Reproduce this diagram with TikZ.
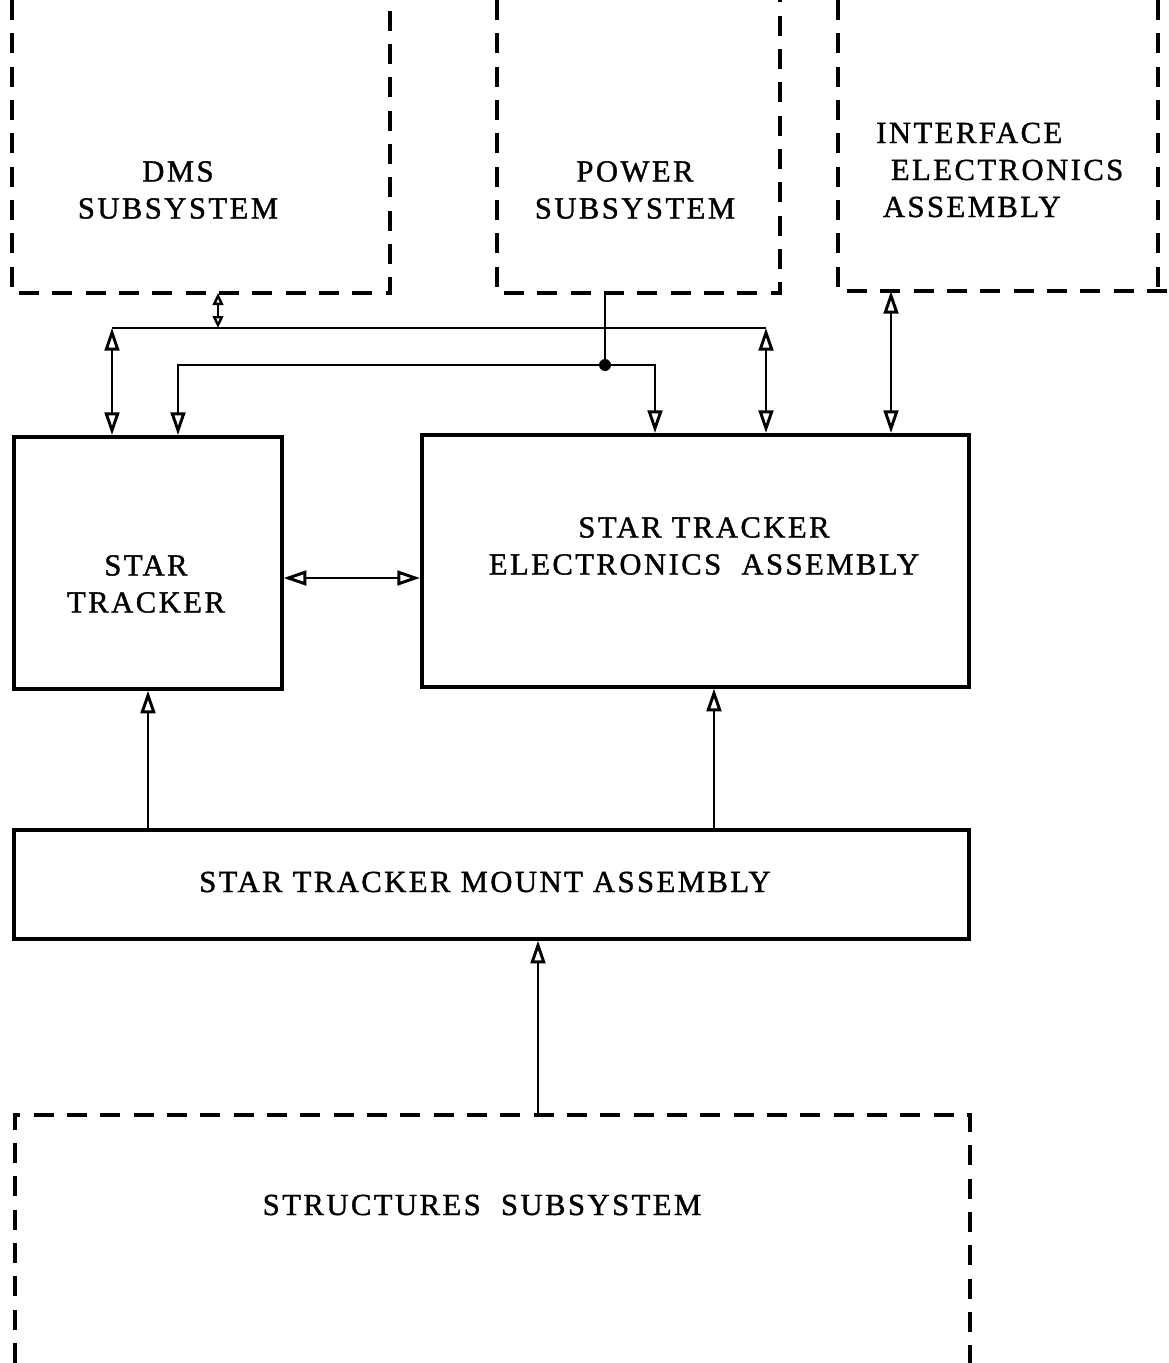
\documentclass[tikz,border=0pt]{standalone}
\usepackage{fontspec}
\setmainfont{Liberation Serif}[LetterSpace=8, FakeBold=1.2]
\usetikzlibrary{arrows.meta}
\begin{document}
\begin{tikzpicture}[x=0.75pt,y=-0.75pt,
  every node/.style={font=\fontsize{23}{27.75}\selectfont, align=center, inner sep=0pt},
  block/.style={draw, line width=2.7pt, anchor=north west},
  outline/.style={line width=2.3pt, dash pattern=on 15pt off 10pt},
  wire/.style={line width=2.2pt},
  tip/.tip={Triangle[open, length=17pt, width=11pt, line width=2.2pt]},
  smalltip/.tip={Triangle[open, length=9pt, width=8pt, line width=1.8pt]},
  arr/.style={wire, -tip},
  dbl/.style={wire, tip-tip},
  dbls/.style={wire, smalltip-smalltip}]
\useasboundingbox (0,0) rectangle (1168,1363);

% outer subsystems (dashed, open to the page edge)
\draw[outline] (12,0) -- (12,293) -- (390,293) -- (390,0);
\draw[outline] (497,0) -- (497,293) -- (780,293) -- (780,0);
\draw[outline] (838,0) -- (838,291) -- (1168,291);
\draw[outline] (1158,0) -- (1158,291);
\draw[outline] (15,1363) -- (15,1115) -- (970,1115) -- (970,1363);

\node (dms) at (178,190) {DMS\\SUBSYSTEM};
\node (pwr) at (635,190) {POWER\\SUBSYSTEM};
\node[align=left, anchor=west] (iea) at (876,170) {INTERFACE\\\hspace{11pt}ELECTRONICS\\\hspace{5pt}ASSEMBLY};
\node (strc) at (482,1205) {STRUCTURES\ \ SUBSYSTEM};

% star tracker units
\node[block, minimum width=201pt, minimum height=189pt] (st) at (12,435) {};
\node[block, minimum width=410.25pt, minimum height=189pt] (stea) at (420,433) {};
\node[block, minimum width=716.25pt, minimum height=81.75pt] (mnt) at (12,828) {};

\node (stt) at (146,584) {STAR\\TRACKER};
\node (steat) at (704,546) {STAR TRACKER\\ELECTRONICS\ \ ASSEMBLY};
\node (mntt) at (485,882) {STAR TRACKER MOUNT ASSEMBLY};

% connection points
\coordinate (dmsB) at (218,293);
\coordinate (busD) at (218,328);
\coordinate (busL) at (112,328);
\coordinate (busR) at (766,328);
\coordinate (pwrB) at (605,293);
\coordinate (pj) at (605,365);
\coordinate (pL) at (178,365);
\coordinate (pR) at (655,365);
\coordinate (ieaB) at (891,291);
\coordinate (strT) at (538,1115);

% data bus
\draw[dbls] (dmsB) -- (busD);
\draw[wire] (busL) -- (busR);
\draw[dbl] (busL) -- (busL |- st.north);
\draw[dbl] (busR) -- (busR |- stea.north);

% power distribution
\draw[wire] (pwrB) -- (pj);
\draw[arr] (pj) -| (pL |- st.north);
\draw[arr] (pj) -| (pR |- stea.north);
\fill (pj) circle (4.5pt);

% interface link
\draw[dbl] (ieaB) -- (ieaB |- stea.north);

% tracker to electronics
\draw[dbl] (st.east |- 0,578) -- (stea.west |- 0,578);

% mechanical support
\draw[arr] (mnt.north -| 148,0) -- (148,0 |- st.south);
\draw[arr] (mnt.north -| 714,0) -- (714,0 |- stea.south);
\draw[arr] (strT) -- (strT |- mnt.south);
\end{tikzpicture}
\end{document}
